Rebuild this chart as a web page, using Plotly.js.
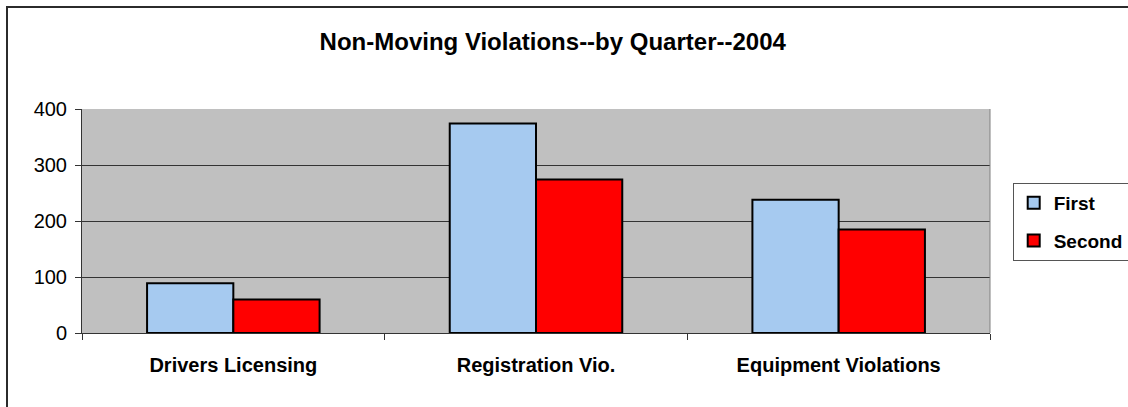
<!DOCTYPE html>
<html>
<head>
<meta charset="utf-8">
<script src="https://cdn.plot.ly/plotly-3.0.1.min.js"></script>
<style>
    body { margin: 0; background: #fff; overflow: hidden; }
    #chart { position: absolute; left: 0; top: 0; width: 1128px; height: 407px; }
    #marco {
        position: absolute; left: 6px; top: 6px; width: 1140px; height: 420px;
        border: 2px solid #2b2b2b; pointer-events: none;
    }
</style>
</head>
<body>
<div id="chart"></div>
<div id="marco"></div>
<script>
// Datos
const categorias = ['Drivers Licensing', 'Registration Vio.', 'Equipment Violations'];
const primero = [89, 374, 238];
const segundo = [60, 274, 185];
const ticksY = [0, 100, 200, 300, 400];

const fuente = 'Arial, "Liberation Sans", sans-serif';

const trazas = [
    {
        type: 'bar',
        name: '<b>First</b>',
        x: categorias,
        y: primero,
        legendgroup: 'a',
        marker: { color: '#A6CAF0', line: { color: '#000', width: 2 } }
    },
    {
        type: 'bar',
        name: '<b>Second</b>',
        x: categorias,
        y: segundo,
        legendgroup: 'b',
        marker: { color: '#FF0000', line: { color: '#000', width: 2 } }
    }
];

const layout = {
    width: 1128,
    height: 407,
    margin: { l: 82, r: 138, t: 109, b: 74, autoexpand: false },
    paper_bgcolor: '#ffffff',
    plot_bgcolor: '#C0C0C0',
    barmode: 'group',
    bargap: 0.43,
    bargroupgap: 0,
    title: {
        text: '<b>Non-Moving Violations--by Quarter--2004</b>',
        font: { family: fuente, size: 24, color: '#000' },
        x: 0.49, xref: 'container', xanchor: 'center',
        y: 0.898, yref: 'container', yanchor: 'middle'
    },
    xaxis: {
        type: 'category',
        tickson: 'boundaries',
        ticks: 'outside',
        ticklen: 6,
        tickcolor: '#333',
        showline: true,
        linecolor: '#333',
        linewidth: 1,
        tickfont: { family: fuente, size: 20, color: '#000', weight: 'bold' },
        ticklabelstandoff: 14
    },
    yaxis: {
        range: [0, 400],
        tickvals: ticksY,
        ticks: 'outside',
        ticklen: 6,
        tickcolor: '#333',
        showline: true,
        linecolor: '#333',
        linewidth: 1,
        gridcolor: '#333',
        gridwidth: 1,
        zeroline: false,
        tickfont: { family: fuente, size: 20, color: '#000' },
        ticklabelstandoff: 4
    },
    showlegend: true,
    legend: {
        x: 1.025, xanchor: 'left',
        y: 0.67, yanchor: 'top',
        bgcolor: '#fff',
        bordercolor: '#555',
        borderwidth: 1,
        traceorder: 'grouped',
        tracegroupgap: 10,
        itemwidth: 30,
        font: { family: fuente, size: 19, color: '#000' }
    },
    shapes: [
        // borde derecho del area de trazado
        { type: 'line', xref: 'paper', yref: 'paper', x0: 1, x1: 1, y0: 0, y1: 1,
          line: { color: '#808080', width: 1 } }
    ]
};

Plotly.newPlot('chart', trazas, layout, { displayModeBar: false, staticPlot: true });
</script>
</body>
</html>
